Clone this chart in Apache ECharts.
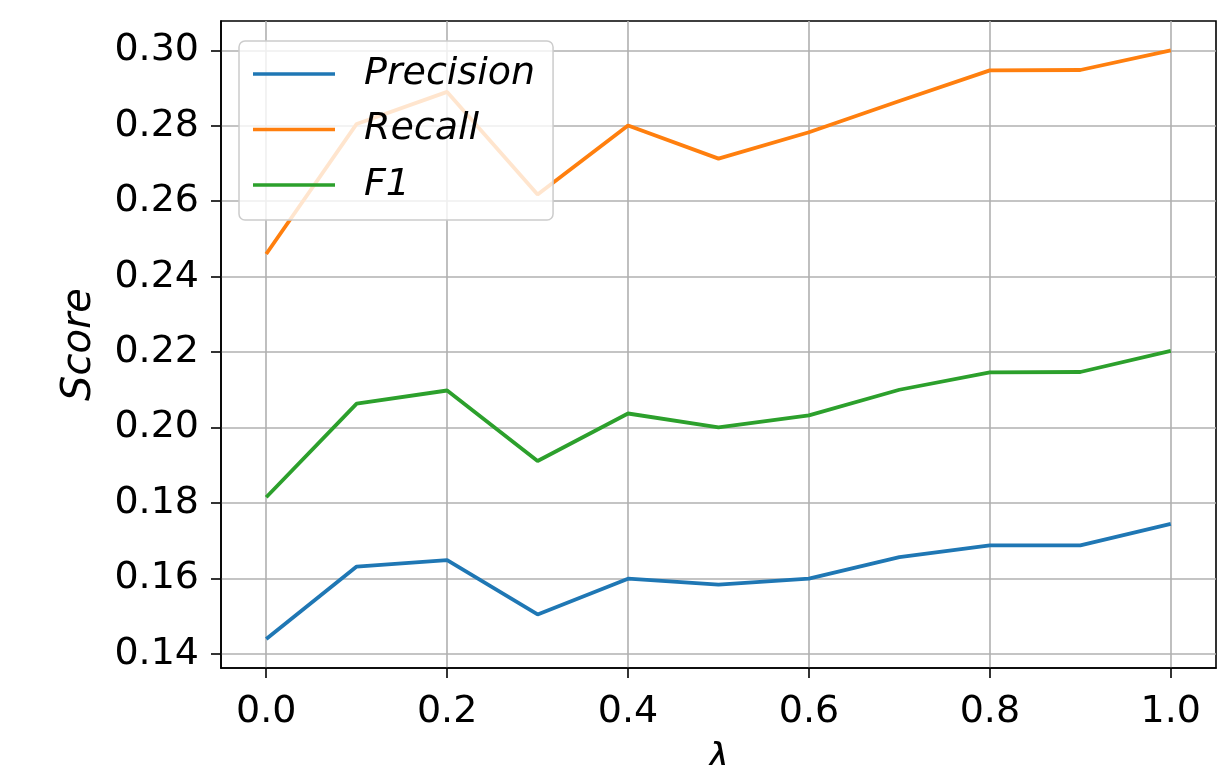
<!DOCTYPE html>
<html>
<head>
<meta charset="utf-8">
<script src="https://cdn.jsdelivr.net/npm/echarts@6/dist/echarts.min.js"></script>
<style>
html,body{margin:0;padding:0;background:#fff;}
#chart{width:1222px;height:765px;}
</style>
</head>
<body>
<div id="chart"></div>
<script>
var lambdas = [0.0, 0.1, 0.2, 0.3, 0.4, 0.5, 0.6, 0.7, 0.8, 0.9, 1.0];
var precision = [0.1439, 0.1631, 0.1648, 0.1504, 0.1599, 0.1583, 0.1599, 0.1656, 0.1687, 0.1687, 0.1744];
var recall = [0.2460, 0.2805, 0.2890, 0.2618, 0.2801, 0.2713, 0.2783, 0.2866, 0.2947, 0.2948, 0.3000];
var f1 = [0.1815, 0.2063, 0.2098, 0.1911, 0.2037, 0.2000, 0.2032, 0.2100, 0.2146, 0.2147, 0.2203];
var xTicks = [0.0, 0.2, 0.4, 0.6, 0.8, 1.0];
var yTicks = [0.14, 0.16, 0.18, 0.20, 0.22, 0.24, 0.26, 0.28, 0.30];
var seriesNames = ['Precision', 'Recall', 'F1'];
var colors = ['#1f77b4', '#ff7f0e', '#2ca02c'];

function pairs(vals) {
  return lambdas.map(function (x, i) { return [x, vals[i]]; });
}

var FONT = 'DejaVu Sans';
var chart = echarts.init(document.getElementById('chart'), null, {renderer: 'canvas'});
var option = {
  animation: false,
  backgroundColor: '#ffffff',
  color: colors,
  grid: {
    left: 221, right: 6, top: 21, bottom: 97,
    containLabel: false, outerBoundsMode: 'none',
    show: true, borderColor: '#000', borderWidth: 1.6, backgroundColor: 'transparent'
  },
  legend: {
    orient: 'vertical',
    left: 239, top: 41,
    padding: [13, 18, 15, 14],
    itemWidth: 82, itemHeight: 40, itemGap: 15.5,
    icon: 'path://M0,0L82,0L82,3.6L0,3.6Z',
    backgroundColor: 'rgba(255,255,255,0.8)',
    borderColor: '#cccccc', borderWidth: 1.5, borderRadius: 6,
    textStyle: {fontFamily: FONT, fontStyle: 'italic', fontSize: 38, color: '#000', padding: [0, 0, 0, 24], lineHeight: 40},
    data: seriesNames
  },
  xAxis: {
    type: 'value', min: -0.05, max: 1.05,
    name: 'λ', nameLocation: 'middle', nameGap: 72,
    nameTextStyle: {fontFamily: FONT, fontStyle: 'italic', fontSize: 38, color: '#000'},
    axisLine: {show: true, onZero: false, lineStyle: {color: '#000', width: 1.6}},
    axisTick: {show: true, length: 10, inside: false, customValues: xTicks, lineStyle: {color: '#000', width: 1.6}},
    axisLabel: {customValues: xTicks, margin: 25, fontFamily: FONT, fontSize: 38, color: '#000',
      formatter: function (v) { return v.toFixed(1); }},
    splitLine: {show: true, lineStyle: {color: '#b0b0b0', width: 1.6}}
  },
  yAxis: {
    type: 'value', min: 0.1362, max: 0.3078,
    name: 'Score', nameLocation: 'middle', nameGap: 121,
    nameTextStyle: {fontFamily: FONT, fontStyle: 'italic', fontSize: 40, color: '#000'},
    axisLine: {show: true, onZero: false, lineStyle: {color: '#000', width: 1.6}},
    axisTick: {show: true, length: 10, inside: false, customValues: yTicks, lineStyle: {color: '#000', width: 1.6}},
    axisLabel: {customValues: yTicks, margin: 22, fontFamily: FONT, fontSize: 38, color: '#000',
      formatter: function (v) { return v.toFixed(2); }},
    splitLine: {show: true, lineStyle: {color: '#b0b0b0', width: 1.6}}
  },
  series: [
    {name: seriesNames[0], type: 'line', data: pairs(precision), showSymbol: false, symbol: 'none', lineStyle: {width: 3.8, color: colors[0]}, itemStyle: {color: colors[0]}},
    {name: seriesNames[1], type: 'line', data: pairs(recall), showSymbol: false, symbol: 'none', lineStyle: {width: 3.8, color: colors[1]}, itemStyle: {color: colors[1]}},
    {name: seriesNames[2], type: 'line', data: pairs(f1), showSymbol: false, symbol: 'none', lineStyle: {width: 3.8, color: colors[2]}, itemStyle: {color: colors[2]}}
  ]
};
chart.setOption(option);
</script>
</body>
</html>
